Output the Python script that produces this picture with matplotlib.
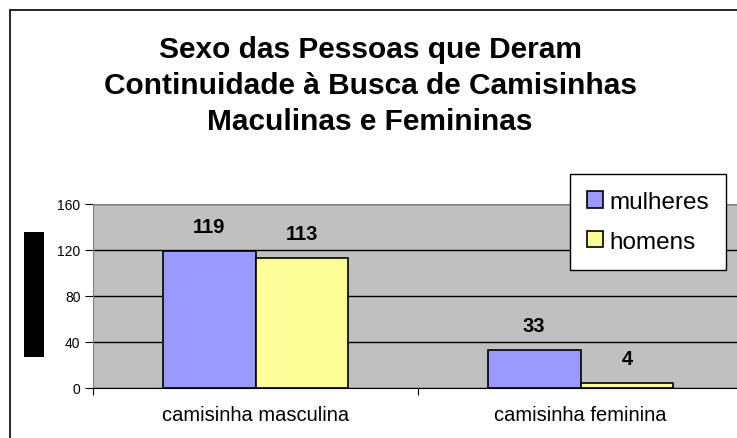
import numpy as np
import matplotlib.pyplot as plt
from matplotlib.patches import Rectangle

plt.rcParams['font.family'] = ['Liberation Sans', 'DejaVu Sans']

categorias = ['camisinha masculina', 'camisinha feminina']
mulheres = [119, 33]
homens = [113, 4]
series = ['mulheres', 'homens']
yticks = [0, 40, 80, 120, 160]

fig = plt.figure(figsize=(7.37, 4.39), dpi=100)
ax = fig.add_axes([93/737, 1-389/439, 650/737, 184/439])
ax.set_facecolor('#C0C0C0')

x = np.arange(len(categorias))
w = 0.285
b1 = ax.bar(x - w/2, mulheres, w, color='#9999FF', edgecolor='black', linewidth=1.2, label=series[0], zorder=3)
b2 = ax.bar(x + w/2, homens, w, color='#FFFF99', edgecolor='black', linewidth=1.2, label=series[1], zorder=3)

for bars, vals in [(b1, mulheres), (b2, homens)]:
    for r, v in zip(bars, vals):
        ax.text(r.get_x() + r.get_width()/2, v + 21.5, str(v), ha='center', va='center',
                fontsize=14.5, fontweight='bold')

ax.set_xlim(-0.5, 1.5)
ax.set_ylim(0, 160)
ax.set_yticks(yticks)
ax.set_yticklabels([str(t) for t in yticks], fontsize=10)
ax.yaxis.grid(True, color='black', linewidth=1, zorder=1)
ax.set_axisbelow(True)
ax.set_xticks([-0.5, 0.5, 1.5])
ax.set_xticklabels([])
ax.set_xticks(x, minor=True)
ax.set_xticklabels(categorias, minor=True, fontsize=14.5)
ax.tick_params(axis='x', which='minor', length=0, pad=12)
ax.tick_params(axis='x', which='major', length=5, direction='out')
ax.tick_params(axis='y', length=6, direction='out', pad=3)
for s in ['top', 'right', 'left']:
    ax.spines[s].set_color('#808080')
ax.spines['bottom'].set_color('black')

leg = ax.legend(loc='upper right', bbox_to_anchor=(726/737, 1-175/439), bbox_transform=fig.transFigure,
                fontsize=17.5, frameon=True, fancybox=False, edgecolor='black', framealpha=1,
                handlelength=0.66, handleheight=0.66, handletextpad=0.25, labelspacing=0.72,
                borderpad=0.7, borderaxespad=0)
leg.get_frame().set_linewidth(1)

fig.text(370/737, 1-86/439, 'Sexo das Pessoas que Deram\nContinuidade à Busca de Camisinhas\nMaculinas e Femininas',
         ha='center', va='center', fontsize=21.5, fontweight='bold', linespacing=1.38)

fig.add_artist(Rectangle((24/737, 1-358/439), 20/737, 125/439, transform=fig.transFigure,
                         facecolor='black', edgecolor='none'))
fig.add_artist(Rectangle((10/737, -0.2), 1.2, 1-11/439+0.2, transform=fig.transFigure,
                         facecolor='none', edgecolor='black', linewidth=1.2, clip_on=False))

fig.savefig('out.png', dpi=100)
